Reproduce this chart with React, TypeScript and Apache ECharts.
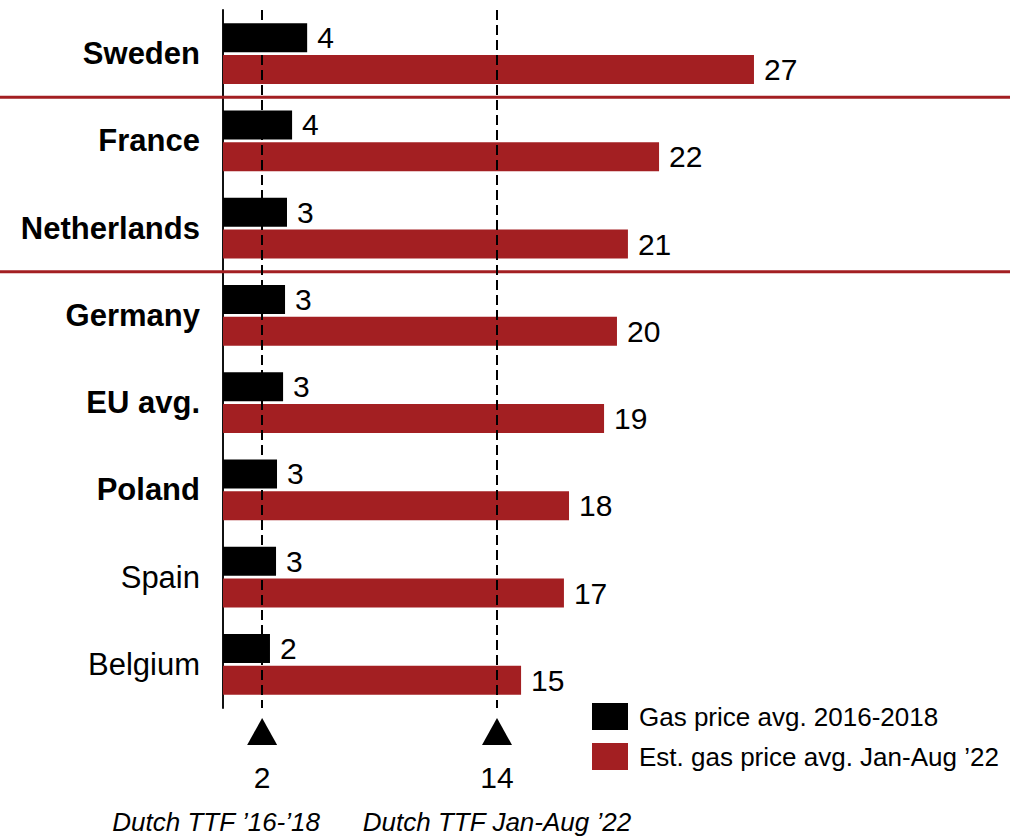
import React, { useEffect, useRef } from 'react';
import * as echarts from 'echarts';

const countries = ['Sweden', 'France', 'Netherlands', 'Germany', 'EU avg.', 'Poland', 'Spain', 'Belgium'];
const boldCountries = ['Sweden', 'France', 'Netherlands', 'Germany', 'EU avg.', 'Poland'];
const gas2016to2018 = [4.3, 3.53, 3.27, 3.17, 3.07, 2.76, 2.71, 2.4];
const gasJanAug22 = [27.13, 22.28, 20.69, 20.13, 19.47, 17.68, 17.42, 15.23];
const ttfValues = [2, 14];
const ttfCaptions = ['Dutch TTF ’16-’18', 'Dutch TTF Jan-Aug ’22'];
const separatorsAfter = ['Sweden', 'Netherlands'];
const seriesNames = ['Gas price avg. 2016-2018', 'Est. gas price avg. Jan-Aug ’22'];

const FONT = '"Liberation Sans", Arial, sans-serif';
const RED = '#A31F22';
const X_MAX = 40;
const PX_PER_UNIT = 274 / 14;
const GRID_LEFT = 223;
const GRID_RIGHT = 1010 - GRID_LEFT - PX_PER_UNIT * X_MAX;
const CAPTION_OFFSETS = [-46, 0];

function buildOption() {
  const barLabel = {
    show: true,
    position: 'right',
    distance: 10,
    fontSize: 30,
    fontFamily: FONT,
    color: '#000',
    formatter: (p: any) => String(Math.round(p.value)),
  };
  return {
    animation: false,
    textStyle: { fontFamily: FONT },
    grid: [
      { left: GRID_LEFT, right: GRID_RIGHT, top: 10, height: 698 },
      { left: GRID_LEFT, right: GRID_RIGHT, top: 708, height: 128 },
    ],
    xAxis: [
      { type: 'value', gridIndex: 0, min: 0, max: X_MAX, show: false },
      { type: 'value', gridIndex: 1, min: 0, max: X_MAX, show: false },
    ],
    yAxis: [
      {
        type: 'category',
        gridIndex: 0,
        data: countries,
        inverse: true,
        axisLine: { show: true, lineStyle: { color: '#111', width: 2 } },
        axisTick: { show: false },
        splitLine: { show: false },
        axisLabel: {
          margin: 23,
          formatter: (v: string) => (boldCountries.includes(v) ? `{b|${v}}` : `{n|${v}}`),
          rich: {
            b: { fontSize: 31, fontWeight: 'bold', fontFamily: FONT, color: '#000' },
            n: { fontSize: 31, fontFamily: FONT, color: '#000' },
          },
        },
      },
      { type: 'value', gridIndex: 1, min: 0, max: 128, inverse: true, show: false },
    ],
    legend: {
      orient: 'vertical',
      left: 592,
      top: 703,
      padding: 0,
      itemWidth: 36,
      itemHeight: 27,
      itemGap: 13,
      icon: 'rect',
      selectedMode: false,
      data: seriesNames,
      textStyle: { fontSize: 26, fontFamily: FONT, color: '#000', padding: [0, 0, 0, 6] },
    },
    series: [
      {
        name: seriesNames[0],
        type: 'bar',
        xAxisIndex: 0,
        yAxisIndex: 0,
        data: gas2016to2018,
        barWidth: 29,
        barGap: '10%',
        itemStyle: { color: '#000' },
        label: barLabel,
        silent: true,
        markLine: {
          silent: true,
          symbol: 'none',
          label: { show: false },
          lineStyle: { type: [10, 5], color: '#000', width: 2 },
          data: ttfValues.map((v) => ({ xAxis: v })),
        },
      },
      {
        name: seriesNames[1],
        type: 'bar',
        xAxisIndex: 0,
        yAxisIndex: 0,
        data: gasJanAug22,
        barWidth: 29,
        barGap: '10%',
        itemStyle: { color: RED },
        label: barLabel,
        silent: true,
      },
      {
        type: 'scatter',
        xAxisIndex: 1,
        yAxisIndex: 1,
        symbol: 'triangle',
        symbolSize: [30, 27],
        itemStyle: { color: '#000', opacity: 1 },
        silent: true,
        data: ttfValues.map((v) => [v, 23.5]),
      },
      {
        type: 'scatter',
        xAxisIndex: 1,
        yAxisIndex: 1,
        symbolSize: 0,
        silent: true,
        itemStyle: { color: '#000', opacity: 1 },
        label: {
          show: true,
          position: 'inside',
          fontSize: 30,
          fontFamily: FONT,
          color: '#000',
          opacity: 1,
          formatter: (p: any) => String(p.value[0]),
        },
        data: ttfValues.map((v) => [v, 69]),
      },
      {
        type: 'scatter',
        xAxisIndex: 1,
        yAxisIndex: 1,
        symbolSize: 0,
        silent: true,
        itemStyle: { color: '#000', opacity: 1 },
        label: {
          show: true,
          position: 'inside',
          fontSize: 26,
          fontStyle: 'italic',
          fontFamily: FONT,
          color: '#000',
          opacity: 1,
          formatter: (p: any) => ttfCaptions[p.dataIndex],
        },
        data: ttfValues.map((v, i) => ({ value: [v, 114], label: { offset: [CAPTION_OFFSETS[i], 0] } })),
      },
    ],
  };
}

export default function App() {
  const ref = useRef<HTMLDivElement>(null);
  useEffect(() => {
    const chart = echarts.init(ref.current!, null, { renderer: 'svg' });
    chart.setOption(buildOption() as any);
    const ys = separatorsAfter.map((name) => {
      const i = countries.indexOf(name);
      const a = chart.convertToPixel({ yAxisIndex: 0 } as any, countries[i]) as unknown as number;
      const b = chart.convertToPixel({ yAxisIndex: 0 } as any, countries[i + 1]) as unknown as number;
      return (a + b) / 2;
    });
    chart.setOption({
      graphic: ys.map((y) => ({
        type: 'line',
        silent: true,
        z: 1,
        shape: { x1: 0, y1: y, x2: 1010, y2: y },
        style: { stroke: RED, lineWidth: 3 },
      })),
    });
    return () => chart.dispose();
  }, []);
  return <div ref={ref} style={{ position: 'absolute', left: 0, top: 0, width: 1010, height: 836 }} />;
}
